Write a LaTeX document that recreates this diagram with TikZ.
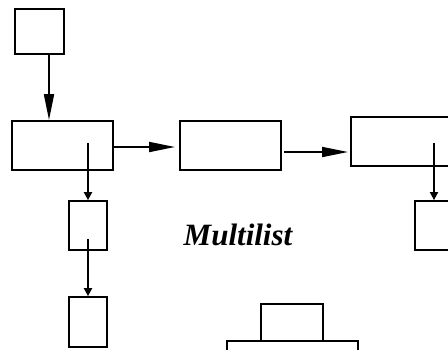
\documentclass[tikz,border=0pt]{standalone}
\usepackage{fontspec}
\setmainfont{Liberation Serif}
\usetikzlibrary{arrows.meta}
\begin{document}
\begin{tikzpicture}[x=1pt,y=-1pt,
  cell/.style={draw, line width=1.8pt, inner sep=0pt, minimum width=#1},
  bigtip/.style={line width=1.8pt, -{Triangle[length=26pt,width=10pt]}},
  smalltip/.style={line width=1.8pt, -{Triangle[length=8pt,width=8pt]}}]
\useasboundingbox (0,0) rectangle (448,349);
\clip (0,0) rectangle (448,349);
% record cells
\node[cell=49pt, minimum height=45pt] (T) at (39.5,31.5) {};
\node[cell=101pt, minimum height=49pt] (A) at (62.5,145.5) {};
\node[cell=101pt, minimum height=49pt] (B) at (230.5,145.5) {};
\node[cell=109pt, minimum height=49pt] (C) at (405.5,141.5) {};
\node[cell=38pt, minimum height=49pt] (D) at (88,225.5) {};
\node[cell=38pt, minimum height=50pt] (E) at (88,322) {};
\node[cell=38pt, minimum height=49pt] (F) at (434,225.5) {};
\node[cell=62pt, minimum height=37pt] (G) at (292,322.5) {};
\node[cell=131pt, minimum height=48pt] (H) at (292.5,365) {};
% pointer origins inside cells
\coordinate (a1) at (88,143);
\coordinate (d1) at (88,239);
\coordinate (c1) at (434,143);
% link end points between neighbouring records
\coordinate (ab0) at (113,147);
\coordinate (ab1) at (175,147);
\coordinate (bc0) at (284,152);
\coordinate (bc1) at (348,152);
% links
\draw[bigtip] ([xshift=9.5pt]T.south) -- ([xshift=9.5pt]T.south |- A.north);
\draw[bigtip] (ab0) -- (ab1);
\draw[bigtip] (bc0) -- (bc1);
\draw[smalltip] (a1) -- (a1 |- D.north);
\draw[smalltip] (d1) -- (d1 |- E.north);
\draw[smalltip] (c1) -- (c1 |- F.north);
\node[anchor=base, font=\fontsize{31}{33}\selectfont\bfseries\itshape] (lbl) at (238,245) {Multilist};
\end{tikzpicture}
\end{document}
